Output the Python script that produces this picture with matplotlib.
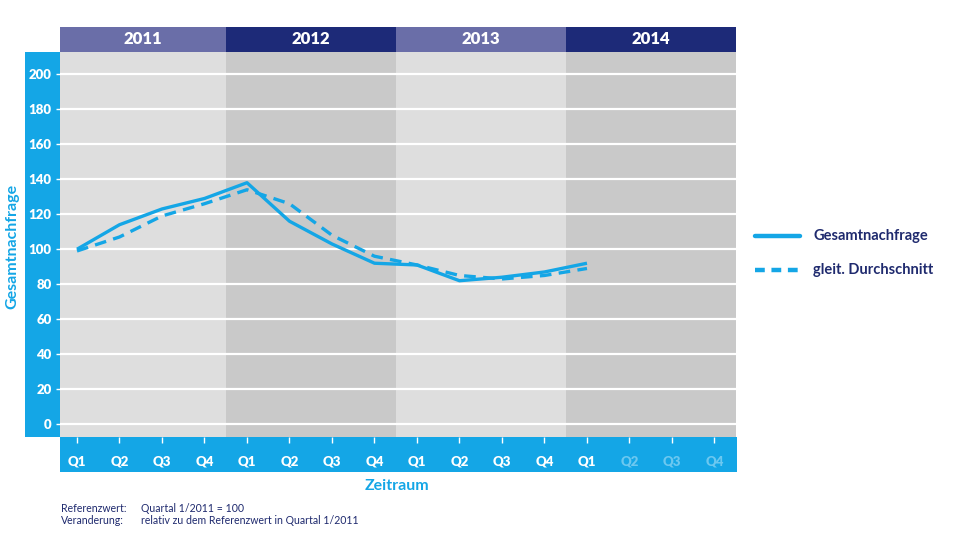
import matplotlib
matplotlib.use("Agg")
import matplotlib.pyplot as plt
from matplotlib.patches import Rectangle

plt.rcParams['font.family'] = ['Lato', 'DejaVu Sans']

years = ["2011", "2012", "2013", "2014"]
quarters = ["Q1", "Q2", "Q3", "Q4"] * 4
gesamt = [100, 114, 123, 129, 138, 116, 103, 92, 91, 82, 84, 87, 92]
gleit = [99, 107, 119, 126, 134, 126, 108, 96, 91, 85, 83, 85, 89]
yticks = [0, 20, 40, 60, 80, 100, 120, 140, 160, 180, 200]

BLUE = '#14a6e6'
NAVY = '#1f2a6e'
W, H = 960, 539
fig = plt.figure(figsize=(9.6, 5.39), dpi=100)

def fx(x):
    return x / W
def fy(y):
    return 1 - y / H

# blue bands (figure-level background)
fig.add_artist(Rectangle((fx(25), fy(437)), fx(60) - fx(25), fy(52) - fy(437),
                         transform=fig.transFigure, color=BLUE, zorder=-1, lw=0))
fig.add_artist(Rectangle((fx(60), fy(472)), fx(737) - fx(60), fy(437) - fy(472),
                         transform=fig.transFigure, color=BLUE, zorder=-1, lw=0))

ax = fig.add_axes([fx(60), fy(437), fx(737) - fx(60), fy(52) - fy(437)])
xlim = (-0.4, 15.53)
ax.set_xlim(*xlim)
ax.set_ylim(-7.3, 212.7)

band_light = '#dedede'
band_dark = '#c9c9c9'
head_light = '#6a6ea8'
head_dark = '#1d2a78'
for i, yr in enumerate(years):
    lo = max(i * 4 - 0.5, xlim[0])
    hi = min(i * 4 + 3.5, xlim[1])
    ax.axvspan(lo, hi, color=band_light if i % 2 == 0 else band_dark, lw=0, zorder=0)

for v in yticks:
    ax.axhline(v, color='white', lw=1.6, zorder=1)

xs = list(range(len(gesamt)))
ax.plot(xs, gesamt, color=BLUE, lw=2.4, zorder=3, solid_capstyle='butt')
ax.plot(range(len(gleit)), gleit, color=BLUE, lw=2.4, zorder=3, dashes=(3.5, 2.2))

for s in ax.spines.values():
    s.set_visible(False)

ax.set_yticks(yticks)
ax.set_yticklabels([str(v) for v in yticks], fontsize=9.5, fontweight='heavy', color='white')
ax.tick_params(axis='y', colors='white', length=3, width=1, pad=3)

ax.set_xticks(range(16))
ax.set_xticklabels(quarters, fontsize=9.5, fontweight='heavy')
ax.tick_params(axis='x', colors='white', length=4, width=1, pad=9, direction='out')
for i, lbl in enumerate(ax.get_xticklabels()):
    lbl.set_color('white' if i <= 12 else '#6cc8f0')
for i, t in enumerate(ax.xaxis.get_major_ticks()):
    t.tick1line.set_color('white' if i <= 12 else '#6cc8f0')

# header with years
hax = fig.add_axes([fx(60), fy(52), fx(737) - fx(60), fy(27) - fy(52)])
hax.set_xlim(*xlim)
hax.set_ylim(0, 1)
hax.axis('off')
for i, yr in enumerate(years):
    lo = max(i * 4 - 0.5, xlim[0])
    hi = min(i * 4 + 3.5, xlim[1])
    hax.axvspan(lo, hi, color=head_light if i % 2 == 0 else head_dark, lw=0)
    hax.text((lo + hi) / 2, 0.5, yr, color='white', fontsize=12, fontweight='heavy',
             ha='center', va='center')

fig.text(fx(12), fy(246), "Gesamtnachfrage", rotation=90, color=BLUE, fontsize=11.5,
         fontweight='bold', ha='center', va='center')
fig.text(fx(397), fy(486), "Zeitraum", color=BLUE, fontsize=11.5, fontweight='bold',
         ha='center', va='center')

# legend
lx0, lx1 = fx(755), fx(800)
fig.add_artist(plt.Line2D([lx0, lx1], [fy(236), fy(236)], transform=fig.transFigure,
                          color=BLUE, lw=3.2, solid_capstyle='round'))
fig.add_artist(plt.Line2D([lx0, lx1], [fy(270), fy(270)], transform=fig.transFigure,
                          color=BLUE, lw=3.2, dashes=(2.2, 1.5)))
fig.text(fx(813), fy(236), "Gesamtnachfrage", color=NAVY, fontsize=10.5, fontweight='bold',
         ha='left', va='center')
fig.text(fx(813), fy(270), "gleit. Durchschnitt", color=NAVY, fontsize=10.5, fontweight='bold',
         ha='left', va='center')

# footnote
fs = 7.6
fig.text(fx(61), fy(508), "Referenzwert:", color=NAVY, fontsize=fs, ha='left', va='center')
fig.text(fx(61), fy(521), "Veranderung:", color=NAVY, fontsize=fs, ha='left', va='center')
fig.text(fx(141), fy(508), "Quartal 1/2011 = 100", color=NAVY, fontsize=fs, ha='left', va='center')
fig.text(fx(141), fy(521), "relativ zu dem Referenzwert in Quartal 1/2011", color=NAVY,
         fontsize=fs, ha='left', va='center')

fig.savefig("out.png", dpi=100, facecolor='white')
